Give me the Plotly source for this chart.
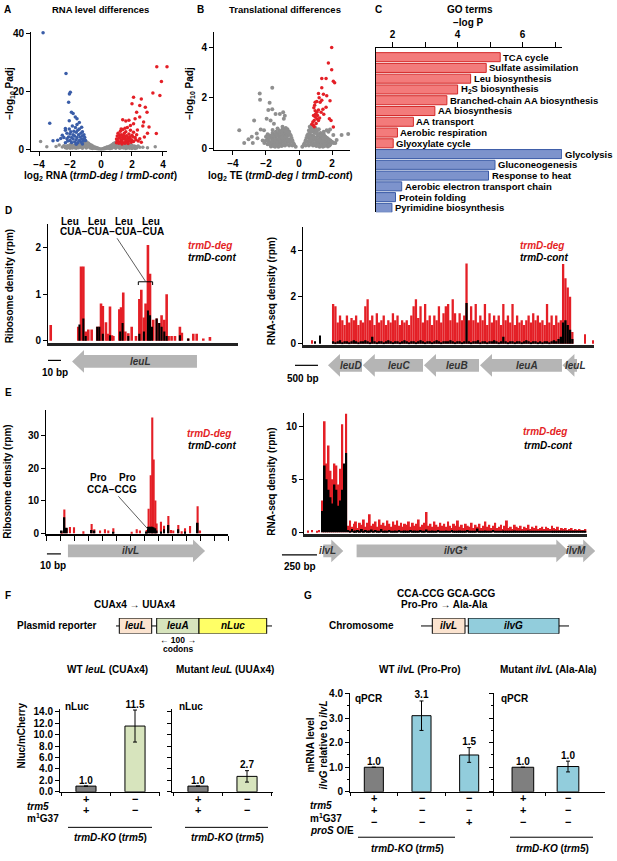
#!/usr/bin/env python3
import plotly.graph_objects as go

W, H = 617, 861
FONT = "Liberation Sans, Arial, sans-serif"
RED = "#e41f26"
GREY = "#8f8f8f"
BLUE = "#3a5da8"
TRACK = "#b5b5b5"

# ---------------- A: RNA volcano (log2 ratio, -log10 Padj)
a_grey = [(0, 0.05), (0.1, 0.1), (-0.1, 0.1), (0.2, 0.3), (-0.2, 0.25), (0.3, 0.5), (-0.3, 0.45),
          (0.4, 0.7), (-0.4, 0.65), (0.5, 0.9), (-0.5, 1.0), (0.6, 1.2), (-0.6, 1.3), (0.7, 1.5),
          (-0.7, 1.6), (0.8, 1.9), (-0.8, 2.0), (0.9, 2.2), (-0.9, 2.4), (1.0, 2.5), (-1.0, 2.8),
          (0.3, 0.2), (-0.3, 0.2), (0.5, 0.4), (-0.5, 0.5), (0.6, 0.7), (-0.6, 0.8), (0.7, 0.3),
          (-0.7, 0.4), (0.8, 1.0), (-0.8, 1.1), (0.9, 0.6), (-0.9, 0.7), (1.0, 1.4), (-1.0, 1.5),
          (1.1, 0.9), (-1.1, 1.0), (1.2, 1.8), (-1.2, 2.0), (1.3, 0.5), (-1.3, 0.6), (1.4, 1.2),
          (-1.4, 1.3), (1.5, 0.8), (-1.5, 0.9), (1.6, 1.5), (-1.6, 1.6), (1.7, 0.4), (-1.7, 0.5),
          (1.8, 1.0), (-1.8, 1.2), (1.9, 0.7), (-1.9, 0.8), (2.0, 1.3), (-2.0, 1.5), (2.1, 0.5),
          (-2.1, 0.6), (2.2, 0.9), (-2.2, 1.0), (2.3, 0.4), (-2.3, 0.5), (2.5, 0.6), (-2.5, 0.7),
          (0.2, 0.1), (-0.2, 0.1), (0.4, 0.3), (-0.4, 0.3), (0.6, 0.2), (-0.6, 0.25), (0.9, 1.6),
          (-0.9, 1.8), (1.1, 2.0), (-1.1, 2.2), (1.3, 1.6), (-1.3, 1.7), (1.5, 2.0), (-1.5, 2.1),
          (1.7, 1.3), (-1.7, 1.4), (1.9, 1.6), (-1.9, 1.7), (2.4, 1.1), (-2.4, 1.2), (2.7, 0.6),
          (-2.7, 1.4), (-3.5, 0.8), (3.5, 0.8), (-3.9, 2.6), (-2.9, 0.9), (3.0, 0.5), (1.2, 0.3),
          (-1.2, 0.3), (1.6, 0.2), (-1.6, 0.3), (2.0, 0.2), (-2.0, 0.3),
          (0.15, 0.2), (-0.15, 0.2), (0.25, 0.4), (-0.25, 0.4), (0.35, 0.6), (-0.35, 0.6), (0.45, 0.5),
          (-0.45, 0.5), (0.55, 0.8), (-0.55, 0.8), (0.65, 1.0), (-0.65, 1.1), (0.75, 1.2), (-0.75, 1.3),
          (0.85, 1.4), (-0.85, 1.5), (0.95, 1.9), (-0.95, 2.1), (1.05, 1.1), (-1.05, 1.2), (1.15, 1.5),
          (-1.15, 1.6), (1.25, 1.0), (-1.25, 1.1), (1.35, 1.4), (-1.35, 1.5), (1.45, 0.9), (-1.45, 1.0),
          (1.55, 1.3), (-1.55, 1.4), (1.65, 0.8), (-1.65, 0.9), (1.75, 1.1), (-1.75, 1.2), (1.85, 0.6),
          (-1.85, 0.7), (1.95, 1.0), (-1.95, 1.1), (2.05, 0.7), (-2.05, 0.8), (2.15, 1.1), (-2.15, 1.2),
          (2.25, 0.6), (-2.25, 0.7), (2.35, 0.9), (-2.35, 1.0), (0.55, 0.2), (-0.55, 0.2), (0.75, 0.6),
          (-0.75, 0.7), (0.95, 0.3), (-0.95, 0.35), (1.15, 0.6), (-1.15, 0.6), (1.45, 0.4), (-1.45, 0.45),
          (1.85, 0.3), (-1.85, 0.35), (2.2, 0.2), (-2.2, 0.25)]
a_blue = [(-1.0, 3.0), (-1.05, 4.0), (-1.1, 3.3), (-1.1, 5.0), (-1.15, 2.8), (-1.2, 4.5), (-1.2, 6.0),
          (-1.25, 3.5), (-1.3, 5.5), (-1.3, 2.5), (-1.35, 4.2), (-1.4, 7.0), (-1.4, 3.0), (-1.45, 5.0),
          (-1.5, 6.5), (-1.5, 2.2), (-1.55, 4.0), (-1.6, 3.2), (-1.6, 5.8), (-1.65, 7.5), (-1.7, 4.5),
          (-1.7, 2.5), (-1.75, 6.2), (-1.8, 3.5), (-1.8, 5.0), (-1.85, 8.0), (-1.9, 4.0), (-1.9, 2.3),
          (-1.95, 6.0), (-2.0, 3.0), (-2.0, 5.2), (-2.05, 7.0), (-2.1, 4.2), (-2.15, 2.8), (-2.2, 5.5),
          (-2.2, 3.6), (-2.3, 6.5), (-2.3, 2.2), (-2.4, 4.0), (-2.5, 4.8), (-2.6, 3.7), (-2.8, 3.1),
          (-3.1, 2.9), (-2.3, 7.1), (-1.25, 7.6), (-1.55, 8.5), (-1.2, 1.8), (-1.6, 1.7),
          (-3.74, 40.3), (-2.26, 26.2), (-1.98, 19.7), (-2.04, 19.1), (-2.09, 16.2), (-1.91, 12.8),
          (-1.8, 12.3), (-1.66, 11.1), (-3.31, 9.0), (-1.55, 10.5), (-2.05, 9.8), (-1.4, 9.2)]
a_red = [(1.0, 2.2), (1.0, 3.5), (1.05, 4.5), (1.1, 2.8), (1.1, 5.5), (1.15, 3.8), (1.2, 2.4),
         (1.2, 4.8), (1.25, 6.2), (1.3, 3.2), (1.3, 5.0), (1.35, 2.6), (1.4, 4.2), (1.4, 6.8),
         (1.45, 3.5), (1.5, 2.2), (1.5, 5.5), (1.55, 4.0), (1.6, 3.0), (1.6, 6.0), (1.65, 4.6),
         (1.7, 2.5), (1.7, 7.5), (1.75, 3.8), (1.8, 5.2), (1.8, 2.8), (1.85, 4.3), (1.9, 3.4),
         (1.9, 6.5), (1.95, 2.4), (2.0, 4.8), (2.0, 3.0), (2.1, 5.8), (2.1, 2.6), (2.2, 4.0),
         (2.25, 3.2), (2.3, 5.0), (2.4, 2.8), (2.5, 3.6), (1.15, 2.0), (1.35, 1.8), (1.55, 2.0),
         (1.75, 1.9), (1.25, 4.0), (1.45, 4.8), (1.65, 3.4), (1.85, 3.0), (2.05, 4.2), (1.05, 3.0),
         (1.3, 7.0), (1.55, 7.2), (2.6, 2.4), (2.8, 4.2), (3.0, 5.5), (2.35, 6.6),
         (3.6, 28.5), (4.26, 28.5), (3.9, 23.4), (3.8, 18.6), (3.35, 19.4), (2.1, 18.0), (2.6, 17.4),
         (2.0, 15.7), (2.5, 15.1), (2.86, 14.5), (2.97, 12.8), (2.3, 12.8), (2.2, 10.5), (1.8, 10.0),
         (2.75, 9.4), (2.5, 11.1), (3.1, 7.7), (3.57, 5.4), (1.9, 8.2), (1.6, 9.7), (2.1, 8.8),
         (1.4, 10.2), (2.7, 8.0)]

# ---------------- B: TE volcano
b_grey = [(-0.2, 0.05), (-0.3, 0.15), (-0.4, 0.3), (-0.5, 0.5), (-0.6, 0.65), (-0.7, 0.75), (-0.8, 0.8),
          (-0.9, 0.7), (-1.0, 0.75), (-1.1, 0.6), (-1.2, 0.7), (-1.3, 0.55), (-1.4, 0.65), (-1.5, 0.5),
          (-1.6, 0.6), (-1.7, 0.45), (-1.8, 0.5), (-1.9, 0.35), (-2.0, 0.3), (-2.1, 0.2),
          (-0.4, 0.1), (-0.5, 0.25), (-0.6, 0.35), (-0.7, 0.5), (-0.8, 0.55), (-0.9, 0.45), (-1.0, 0.5),
          (-1.1, 0.35), (-1.2, 0.45), (-1.3, 0.3), (-1.4, 0.4), (-1.5, 0.25), (-1.6, 0.35), (-1.7, 0.2),
          (-1.8, 0.25), (-1.9, 0.15), (-0.7, 0.25), (-0.8, 0.3), (-0.9, 0.2), (-1.0, 0.25), (-1.1, 0.15),
          (-1.2, 0.2), (-1.3, 0.1), (-1.4, 0.15), (-1.5, 0.1), (-1.6, 0.12), (-0.6, 0.1), (-0.85, 0.1),
          (-1.05, 0.08), (-1.25, 0.05), (-1.45, 0.05), (-1.7, 0.06),
          (-0.35, 0.2), (-0.45, 0.4), (-0.55, 0.55), (-0.65, 0.6), (-0.75, 0.65), (-0.85, 0.7),
          (-0.95, 0.6), (-1.05, 0.65), (-1.15, 0.55), (-1.25, 0.6), (-1.35, 0.5), (-1.45, 0.55),
          (-1.55, 0.45), (-1.65, 0.5), (-1.75, 0.4), (-1.85, 0.4), (-1.95, 0.3), (-0.55, 0.15),
          (-0.65, 0.3), (-0.75, 0.4), (-0.85, 0.45), (-0.95, 0.35), (-1.05, 0.4), (-1.15, 0.3),
          (-1.25, 0.35), (-1.35, 0.25), (-1.45, 0.3), (-1.55, 0.2), (-1.65, 0.25), (-1.75, 0.15),
          (-1.85, 0.2), (-0.75, 0.15), (-0.95, 0.12), (-1.15, 0.1), (-1.35, 0.12), (-1.55, 0.08),
          (-0.8, 0.65), (-1.0, 0.85), (-1.3, 0.78), (-1.6, 0.72), (-1.9, 0.55), (-2.2, 0.3), (-2.0, 0.45),
          (0.2, 0.05), (0.3, 0.15), (0.4, 0.3), (0.5, 0.5), (0.6, 0.7), (0.7, 0.8), (0.8, 0.75),
          (0.9, 0.7), (1.0, 0.65), (1.1, 0.7), (1.2, 0.55), (1.3, 0.6), (1.4, 0.5), (1.5, 0.55),
          (1.6, 0.45), (1.7, 0.4), (1.8, 0.35), (1.9, 0.3), (2.0, 0.25), (2.1, 0.2),
          (0.4, 0.1), (0.5, 0.25), (0.6, 0.4), (0.7, 0.5), (0.8, 0.5), (0.9, 0.45), (1.0, 0.4),
          (1.1, 0.45), (1.2, 0.35), (1.3, 0.4), (1.4, 0.3), (1.5, 0.35), (1.6, 0.25), (1.7, 0.2),
          (1.8, 0.2), (1.9, 0.15), (0.7, 0.25), (0.8, 0.3), (0.9, 0.2), (1.0, 0.2), (1.1, 0.15),
          (1.2, 0.2), (1.3, 0.1), (1.4, 0.15), (1.5, 0.1), (1.6, 0.12), (0.6, 0.1), (0.85, 0.1),
          (1.05, 0.08), (1.25, 0.05), (1.45, 0.05), (1.75, 0.06),
          (0.35, 0.2), (0.45, 0.4), (0.55, 0.55), (0.65, 0.6), (0.75, 0.65), (0.85, 0.7), (0.95, 0.6),
          (1.05, 0.6), (1.15, 0.55), (1.25, 0.5), (1.35, 0.5), (1.45, 0.45), (1.55, 0.4), (1.65, 0.4),
          (1.75, 0.3), (1.85, 0.3), (1.95, 0.25), (0.55, 0.15), (0.65, 0.3), (0.75, 0.4), (0.85, 0.45),
          (0.95, 0.35), (1.05, 0.3), (1.15, 0.3), (1.25, 0.3), (1.35, 0.25), (1.45, 0.2), (1.55, 0.2),
          (1.65, 0.15), (1.75, 0.12), (1.85, 0.1), (0.75, 0.15), (0.95, 0.12), (1.15, 0.1), (1.35, 0.1),
          (1.55, 0.08), (0.65, 0.85), (0.75, 0.9), (1.0, 0.8), (1.2, 0.75), (1.5, 0.65), (2.2, 0.2),
          (-1.62, 2.4), (-2.38, 2.17), (-2.36, 1.92), (-1.78, 1.8), (-1.86, 1.52), (-1.62, 1.55),
          (-0.96, 1.43), (-1.16, 1.36), (-0.86, 1.29), (-0.92, 1.17), (-2.72, 1.1), (-1.72, 1.1),
          (-3.62, 0.71), (-2.32, 0.74), (-2.56, 0.58), (-3.06, 0.35), (-2.86, 0.45), (-3.32, 0.2),
          (-2.8, 0.2), (-2.52, 0.39), (-2.12, 0.71), (-1.96, 1.17), (-1.52, 0.97), (-1.42, 1.36),
          (2.98, 0.56), (2.28, 0.32), (2.58, 0.52), (1.78, 0.65), (1.88, 0.74), (1.68, 0.71), (2.08, 0.52)]
b_red = [(2.64, 4.64), (1.98, 4.0), (1.78, 3.38), (1.98, 3.12), (1.38, 2.77), (1.64, 2.77), (2.08, 2.66),
         (2.16, 2.6), (1.38, 2.4), (1.18, 2.17), (1.48, 2.14), (1.68, 2.08), (0.98, 1.82), (1.08, 1.85),
         (1.28, 1.82), (1.38, 1.9), (1.88, 1.88), (1.64, 1.62), (0.98, 1.49), (1.08, 1.43), (1.18, 1.52),
         (1.34, 1.43), (0.88, 1.3), (0.98, 1.24), (1.08, 1.17), (0.92, 1.1), (0.84, 1.04), (1.04, 0.98),
         (1.18, 1.1), (1.84, 1.17), (1.94, 1.1), (2.08, 0.84), (0.88, 0.9), (0.78, 0.95), (0.92, 0.85),
         (1.0, 1.35), (0.9, 1.6), (1.12, 1.3), (1.25, 1.2), (1.45, 1.55), (1.22, 2.0), (1.5, 1.35),
         (0.95, 1.7)]

# ---------------- C: GO terms
go_terms = ["TCA cycle", "Sulfate assimilation", "Leu biosynthesis", "H<sub>2</sub>S biosynthesis",
            "Branched-chain AA biosynthesis", "AA biosynthesis", "AA transport", "Aerobic respiration",
            "Glyoxylate cycle", "Glycolysis", "Gluconeogenesis", "Response to heat",
            "Aerobic electron transport chain", "Protein folding", "Pyrimidine biosynthesis"]
go_logp = [5.31, 4.88, 4.40, 4.0, 3.67, 3.30, 2.64, 2.15, 2.02, 7.2, 5.15, 4.95, 2.28, 2.09, 1.98]
go_dir = ["up"] * 9 + ["down"] * 6

# ---------------- D left: ribosome density at leuL (bp)
d_ribo_deg_pos = [2.1, 23.3, 25.4, 27.2, 29, 31, 33.6, 37.9, 39.5, 40.8, 42.2, 44.6, 45.9, 47.7, 49.2,
                  50.3, 54.9, 56.2, 57.9, 59.5, 61.8, 64.4, 67.7, 70.3, 71.8, 73.8, 75.1, 76.9, 78.5,
                  81, 83.6, 85.6, 87.4, 89.5, 91.3, 92.8, 95.1, 97.7, 101.5, 103, 107.9, 111.8, 114.4,
                  119.5, 124.6]
d_ribo_deg = [0.34, 0.3, 1.6, 1.6, 0.2, 0.24, 0.24, 0.3, 0.3, 0.8, 0.75, 0.4, 0.15, 0.74, 0.12,
              0.1, 0.68, 0.72, 1.04, 0.2, 0.16, 0.3, 0.1, 0.9, 1.1, 0.5, 0.8, 2.06, 1.44,
              0.45, 0.48, 0.38, 0.55, 0.45, 1.0, 0.1, 0.1, 0.1, 0.3, 0.17, 0.05, 0.15, 0.15,
              0.05, 0.08]
d_ribo_cont_pos = [24.2, 27.2, 29, 37.9, 39.5, 42.2, 47.7, 55.5, 57.4, 61.8, 70.3, 73.8, 76.9, 78.5,
                   80, 83.6, 85.6, 87.4, 89.5, 91.3, 101.5, 107.9]
d_ribo_cont = [0.35, 0.48, 0.1, 0.3, 0.3, 0.15, 0.12, 0.2, 0.38, 0.1, 0.15, 0.2, 0.65, 0.55,
               0.3, 0.48, 0.38, 0.3, 0.2, 0.1, 0.12, 0.05]
d_codon_span = [69.5, 80.5]

# ---------------- D right: RNA-seq density over leu operon (50 bp bins)
d_rna_start, d_rna_bin = 655, 50
d_rna_deg = [1.7, 1.6, 0.9, 1.2, 1.0, 0.8, 1.2, 0.9, 1.1, 1.0,
             1.2, 0.8, 1.0, 0.9, 1.6, 1.9, 1.0, 1.2, 0.8, 1.3,
             0.9, 1.0, 1.2, 0.8, 1.0, 0.9, 1.3, 1.0, 1.2, 0.8,
             1.0, 0.9, 1.0, 0.8, 1.2, 1.6, 1.9, 1.1, 1.6, 0.9,
             1.7, 1.0, 1.2, 0.8, 1.2, 1.0, 1.6, 0.9, 1.3, 1.6,
             1.7, 1.0, 1.9, 1.3, 0.9, 1.3, 1.0, 1.2, 3.43, 1.0,
             1.6, 1.0, 1.7, 0.9, 1.2, 1.0, 1.7, 0.8, 1.3, 0.9,
             1.2, 1.0, 1.2, 0.8, 1.7, 1.0, 1.2, 0.9, 1.7, 0.8,
             1.2, 0.9, 1.0, 0.8, 1.0, 1.2, 0.9, 1.3, 1.0, 1.2,
             0.9, 1.0, 0.8, 1.7, 0.9, 1.2, 0.8, 1.2, 0.9, 1.0,
             3.4, 2.8, 2.4, 2.0, 0.5]
d_rna_cont = [0.1, 0.05, 0.1, 0.15, 0.05, 0.1, 0.1, 0.05, 0.1, 0.15,
              0.1, 0.05, 0.1, 0.1, 0.15, 0.1, 0.05, 0.3, 0.1, 0.05,
              0.1, 0.1, 0.05, 0.1, 0.15, 0.1, 0.05, 0.1, 0.1, 0.05,
              0.1, 0.15, 0.1, 0.05, 0.1, 0.1, 0.05, 0.1, 0.15, 0.1,
              0.05, 0.1, 0.1, 0.05, 0.1, 0.15, 0.1, 0.05, 0.1, 0.1,
              0.1, 0.15, 0.1, 0.05, 0.1, 0.1, 0.05, 0.1, 1.74, 0.1,
              0.05, 0.1, 0.1, 0.15, 0.05, 0.1, 0.1, 0.05, 0.1, 0.1,
              0.15, 0.1, 0.05, 0.1, 0.3, 0.1, 0.05, 0.1, 0.1, 0.05,
              0.1, 0.1, 0.05, 0.1, 0.15, 0.1, 0.05, 0.1, 0.1, 0.05,
              0.1, 0.05, 0.1, 0.1, 0.05, 0.1, 0.15, 0.1, 0.2, 0.3,
              0.9, 1.0, 0.8, 0.6, 0.2]
d_rna_deg_extra_pos, d_rna_deg_extra = [196, 6130, 6300], [0.15, 0.4, 0.15]
d_rna_cont_extra_pos, d_rna_cont_extra = [260, 370], [0.1, 0.35]

# ---------------- E left: ribosome density at ilvL (bp)
e_ribo_deg_pos = [11.2, 13.1, 14.8, 17.1, 20, 26.7, 32.6, 34.5, 38.6, 42.1, 44.5, 48.1, 61.2, 64.8,
                  67.1, 71.9, 73.3, 74.8, 75.9, 76.9, 78.1, 79, 82.1, 84.3, 87.4, 89.3, 90.9, 94.5,
                  96.9, 99.3, 102.9, 108.3, 110]
e_ribo_deg = [0.5, 7.3, 1.5, 1.9, 1.8, 0.6, 2.8, 1.2, 0.8, 1.2, 0.8, 1.5, 0.3, 1.2,
              0.8, 1.0, 7.5, 17.8, 35.5, 22.6, 10, 3, 3.5, 2.3, 5.3, 1.0, 0.8, 2.5,
              0.6, 1.5, 2.2, 8.3, 0.8]
e_ribo_cont_pos = [11.2, 13.1, 14.8, 32.6, 34.5, 48.1, 71.9, 73.3, 74.8, 75.9, 76.9, 78.1, 79,
                   82.1, 84.3, 87.4, 94.5, 99.3, 108.3]
e_ribo_cont = [0.8, 4.9, 1.7, 1.0, 0.8, 0.3, 0.5, 2.0, 2.0, 2.0, 1.8, 1.5, 0.8,
               0.5, 1.2, 2.5, 1.2, 0.5, 3.2]
e_ticks = [0, 10, 20, 30, 40, 50, 60, 70, 80, 90, 100, 110, 120, 130]
e_codon_pos = [72.9, 1.2]

# ---------------- E right: RNA-seq density over ilv operon (14 bp bins)
e_rna_start, e_rna_bin = 133, 14
e_rna_deg = [3.0, 10.5, 6.5, 8.2, 5.8, 5.0, 6.5, 6.3, 4.5, 6.0, 10.2, 6.0, 11.2,
             0.6, 1.1, 0.5, 0.8, 1.0, 0.4, 0.9, 0.7, 1.2, 0.5,
             0.9, 1.7, 0.6, 0.8, 1.0, 0.5, 1.2, 0.7, 0.9, 0.6,
             1.1, 0.8, 0.5, 1.0, 0.7, 1.1, 0.6, 0.9, 0.5, 0.8,
             0.7, 1.0, 0.5, 0.9, 0.6, 0.8, 1.2, 0.5, 0.7, 0.9,
             1.9, 0.6, 0.8, 0.5, 1.0, 0.7, 0.5, 0.9, 0.6, 0.8,
             0.5, 1.0, 0.6, 0.4, 0.8, 0.6, 1.1, 0.5, 0.7, 0.4,
             0.8, 0.6, 0.5, 0.9, 0.4, 0.7, 0.5, 0.8, 0.4, 0.6,
             1.0, 0.5, 0.7, 0.4, 0.6, 0.9, 0.4, 0.5, 0.7, 0.3,
             0.6, 1.1, 0.4, 0.5, 0.3, 0.7, 0.5, 0.4, 0.6, 0.3,
             0.5, 0.4, 0.7, 0.3, 0.5, 0.4, 0.6, 0.3, 0.4, 0.5,
             0.3, 0.5, 0.4, 0.3, 0.6, 0.4, 0.3, 0.5, 0.2, 0.4,
             0.3, 0.4, 0.2, 0.3, 0.4, 0.2, 0.3, 0.2, 0.3, 0.2, 0.2, 0.3]
e_rna_cont = [2.0, 6.3, 5.0, 4.0, 3.3, 2.7, 4.5, 4.0, 2.5, 3.0, 4.0, 6.5, 7.5,
              0.2, 0.1, 0.3, 0.1, 0.15, 0.2, 0.1, 0.3, 0.1, 0.2,
              0.1, 0.15, 0.25, 0.1, 0.2, 0.1, 0.1, 0.3, 0.1, 0.15,
              0.1, 0.2, 0.1, 0.1, 0.15, 0.1, 0.2, 0.1, 0.1, 0.15,
              0.1, 0.1, 0.2, 0.1, 0.15, 0.1, 0.1, 0.2, 0.1, 0.1,
              0.25, 0.1, 0.1, 0.15, 0.1, 0.1, 0.2, 0.1, 0.1, 0.1,
              0.15, 0.1, 0.1, 0.2, 0.1, 0.1, 0.1, 0.15, 0.1, 0.1,
              0.1, 0.2, 0.1, 0.1, 0.1, 0.1, 0.35, 0.1, 0.1, 0.1,
              0.15, 0.1, 0.1, 0.1, 0.2, 0.1, 0.1, 0.1, 0.1, 0.15,
              0.1, 0.1, 0.1, 0.1, 0.1, 0.15, 0.1, 0.1, 0.1, 0.1,
              0.1, 0.1, 0.15, 0.1, 0.1, 0.1, 0.1, 0.1, 0.1, 0.1,
              0.1, 0.1, 0.1, 0.1, 0.1, 0.1, 0.1, 0.1, 0.1, 0.1,
              0.1, 0.05, 0.1, 0.05, 0.1, 0.05, 0.1, 0.05, 0.05, 0.05, 0.05, 0.05]
e_rna_deg_extra_pos, e_rna_deg_extra = [30, 60, 90, 110], [0.15, 0.2, 0.1, 0.2]

# ---------------- gene tracks (start, end in bp, direction)
d_left_genes = [("leuL", 18.5, 114.6, "L")]
d_right_genes = [("leuD", 543, 1283, "L"), ("leuC", 1300, 2609, "L"), ("leuB", 2630, 3826, "L"),
                 ("leuA", 3848, 5630, "L"), ("leuL", 5640, 5957, "L")]
e_left_genes = [("ilvL", 15.7, 113.6, "R")]
e_right_genes = [("ilvL", 138, 281, "R"), ("ilvG*", 376, 1888, "R"), ("ilvM", 1888, 2080, "R")]

# ---------------- F / G schematics (construct units)
f_parts = ["leuL", "leuA", "nLuc"]
f_part_x0 = [19.3, 56.7, 99]
f_part_x1 = [51.7, 99, 166.7]
f_part_col = ["#fbe3cf", "#d7e4bd", "#ffff66"]
f_backbone = [16, 172]
f_mut = 35
g_parts = ["ilvL", "ilvG"]
g_part_x0 = [22.3, 58.3]
g_part_x1 = [55, 149]
g_part_col = ["#fbe3cf", "#92cddc"]
g_backbone = [11, 159]
g_mut = 37.7

# ---------------- F / G bars
f_left_vals, f_left_err = [1.0, 11.5], [0, 2.8]
f_right_vals, f_right_err = [1.0, 2.7], [0, 1.0]
f_cols = ["#7f7f7f", "#d7e4bd"]
f_trm5 = ["+", "−"]
f_m1g37 = ["+", "−"]
g_left_vals, g_left_err = [1.0, 3.1, 1.5], [0, 0.6, 0.3]
g_right_vals, g_right_err = [1.0, 1.03], [0, 0.22]
g_left_cols = ["#7f7f7f", "#92cddc", "#92cddc"]
g_right_cols = ["#7f7f7f", "#92cddc"]
g_left_trm5, g_left_m1g37, g_left_pros = ["+", "−", "−"], ["+", "−", "−"], ["−", "−", "+"]
g_right_trm5, g_right_m1g37, g_right_pros = ["+", "−"], ["+", "−"], ["−", "−"]

# =====================================================================
fig = go.Figure()
lay = {}
ann = []
shapes = []
count = [0]


def fx(px):
    return px / W


def fy(py):
    return 1 - py / H


AX = dict(showgrid=False, zeroline=False, showline=True, linecolor="black", linewidth=1,
          ticks="outside", ticklen=4, tickwidth=1, tickcolor="black",
          tickfont=dict(family=FONT, size=10, color="black", weight="bold"), fixedrange=True)
HID = dict(visible=False)


def axes(x0, x1, y0, y1, xr, yr, xkw=None, ykw=None):
    count[0] += 1
    s = "" if count[0] == 1 else str(count[0])
    xa = dict(AX)
    xa.update(xkw or {})
    ya = dict(AX)
    ya.update(ykw or {})
    xa.update(domain=[fx(x0), fx(x1)], range=xr, anchor="y" + s)
    ya.update(domain=[fy(y1), fy(y0)], range=yr, anchor="x" + s)
    lay["xaxis" + s] = xa
    lay["yaxis" + s] = ya
    return "x" + s, "y" + s


def text(px, py, s, size=10, color="black", xa="center", angle=0, weight="bold"):
    ann.append(dict(x=fx(px), y=fy(py), xref="paper", yref="paper", text=s, showarrow=False,
                    font=dict(family=FONT, size=size, color=color, weight=weight),
                    xanchor=xa, yanchor="middle", textangle=angle))


def pts(xa, ya, data, color, size=3.5):
    xs, ys = zip(*data)
    fig.add_trace(go.Scatter(x=xs, y=ys, mode="markers", xaxis=xa, yaxis=ya, cliponaxis=False,
                             marker=dict(size=size, color=color), hoverinfo="skip"))


def bars(xa, ya, x, y, color, width):
    fig.add_trace(go.Bar(x=x, y=y, xaxis=xa, yaxis=ya, width=width,
                         marker=dict(color=color, line=dict(width=0)), hoverinfo="skip"))


def track(xa, ya, genes, head):
    for name, s, e, d in genes:
        hb, hh = 0.43, 0.77
        if d == "L":
            k = s + head
            xs = [s, k, k, e, e, k, k, s]
            mid = (k + e) / 2
        else:
            k = e - head
            xs = [e, k, k, s, s, k, k, e]
            mid = (s + k) / 2
        ys = [0, hh, hb, hb, -hb, -hb, -hh, 0]
        fig.add_trace(go.Scatter(x=xs, y=ys, xaxis=xa, yaxis=ya, mode="lines", fill="toself",
                                 fillcolor=TRACK, line=dict(width=0), hoverinfo="skip"))
        ann.append(dict(x=mid, y=0, xref=xa, yref=ya, text="<i>%s</i>" % name, showarrow=False,
                        font=dict(family=FONT, size=10, color="#333", weight="bold")))


def scalebar(xa, x0, x1, py):
    shapes.append(dict(type="line", xref=xa, yref="paper", x0=x0, x1=x1, y0=fy(py), y1=fy(py),
                       line=dict(color="black", width=1.2)))


# ---------------- A
xa, ya = axes(31, 167, 27, 148, [-4.52, 4.26], [-0.7, 40.7],
              dict(tickvals=[-4, -2, 0, 2, 4]), dict(tickvals=[0, 20, 40]))
pts(xa, ya, a_grey, GREY)
pts(xa, ya, a_blue, BLUE)
pts(xa, ya, a_red, RED)
text(2, 5, "A", xa="left")
text(100, 5, "RNA level differences", size=9.5)
text(10, 90, "−log<sub>10</sub> Padj", angle=-90)
text(100, 173, "log<sub>2</sub> RNA (<i>trmD-deg</i> / <i>trmD-cont</i>)")

# ---------------- B
xa, ya = axes(214, 350, 27, 147, [-5.15, 3.09], [-0.08, 4.63],
              dict(tickvals=[-4, -2, 0, 2]), dict(tickvals=[0, 2, 4]))
pts(xa, ya, b_grey, GREY, 4)
pts(xa, ya, b_red, RED)
text(195, 5, "B", xa="left")
text(285, 5, "Translational differences", size=9.5)
text(190, 90, "−log<sub>10</sub> Padj", angle=-90)
text(280, 173, "log<sub>2</sub> TE (<i>trmD-deg</i> / <i>trmD-cont</i>)")

# ---------------- C
xa, ya = axes(376, 562, 44, 210, [1.49, 7.21], [14.41, -0.81],
              dict(side="top", tickvals=[2, 4, 6], ticklen=5,
                   minor=dict(tickvals=[3, 5, 7], ticks="outside", ticklen=5, tickcolor="black")),
              dict(ticks="", showticklabels=False))
fill = {"up": "#f37b7b", "down": "#7d93cc"}
edge = {"up": "#d42a2a", "down": "#3a5aa6"}
go_rows = list(range(len(go_terms)))
fig.add_trace(go.Bar(y=go_rows, x=go_logp, orientation="h", xaxis=xa, yaxis=ya, width=0.84,
                     marker=dict(color=[fill[d] for d in go_dir],
                                 line=dict(color=[edge[d] for d in go_dir], width=1)),
                     hoverinfo="skip"))
for term, v, r in zip(go_terms, go_logp, go_rows):
    ann.append(dict(x=v, y=r, xref=xa, yref=ya, text=term, showarrow=False, xanchor="left",
                    xshift=1, font=dict(family=FONT, size=9.5, color="black", weight="bold")))
text(373, 5, "C", xa="left")
text(470, 5, "GO terms")
text(468, 18, "−log P")

# ---------------- D left
xa, ya = axes(48, 238, 222, 342, [0, 146.2], [-0.04, 2.51],
              dict(ticks="", showticklabels=False, linewidth=2.5, linecolor="#222"),
              dict(tickvals=[0, 1, 2]))
bars(xa, ya, d_ribo_deg_pos, d_ribo_deg, RED, 2.0)
bars(xa, ya, d_ribo_cont_pos, d_ribo_cont, "black", 1.6)
shapes.append(dict(type="path", xref=xa, yref=ya,
                   path="M %s,1.2 L %s,1.27 L %s,1.27 L %s,1.2" % (d_codon_span[0], d_codon_span[0],
                                                                 d_codon_span[1], d_codon_span[1]),
                   line=dict(color="black", width=1)))
cx = sum(d_codon_span) / 2
ann.append(dict(x=cx, y=1.28, xref=xa, yref=ya, ax=-33, ay=-50, text="CUA−CUA−CUA−CUA",
                showarrow=True, arrowhead=0, arrowwidth=0.8, arrowcolor="#333",
                font=dict(family=FONT, size=10, color="black", weight="bold")))
for px in [70, 97, 124, 151]:
    text(px, 219, "Leu")
text(3, 208, "D", xa="left")
text(9, 285, "Ribosome density (rpm)", angle=-90)
text(210, 244, "<i>trmD-deg</i>", color=RED)
text(212, 256, "<i>trmD-cont</i>")
xa, ya = axes(38, 240, 346, 376, [-7.7, 147.7], [-1, 1], HID, HID)
track(xa, ya, d_left_genes, 9.2)
scalebar(xa, 0, 10, 360)
text(55, 372, "10 bp")

# ---------------- D right
xa, ya = axes(303, 594, 225, 344, [0, 6326], [-0.04, 4.98],
              dict(ticks="", showticklabels=False, linewidth=2.5, linecolor="#222"),
              dict(tickvals=[0, 2, 4]))
d_pos = [d_rna_start + d_rna_bin * i for i in range(len(d_rna_deg))]
bars(xa, ya, d_pos, d_rna_deg, RED, d_rna_bin)
bars(xa, ya, d_rna_deg_extra_pos, d_rna_deg_extra, RED, 25)
bars(xa, ya, d_pos, d_rna_cont, "black", d_rna_bin)
bars(xa, ya, d_rna_cont_extra_pos, d_rna_cont_extra, "black", 25)
text(271, 290, "RNA-seq density (rpm)", angle=-90)
text(542, 244, "<i>trmD-deg</i>", color=RED)
text(544, 256, "<i>trmD-cont</i>")
xa, ya = axes(285, 600, 350, 380, [-391, 6457], [-1, 1], HID, HID)
track(xa, ya, d_right_genes, 261)
scalebar(xa, -174, 326, 365)
text(303, 378, "500 bp")

# ---------------- E left
xa, ya = axes(46, 228, 410, 536, [0, 130], [-0.3, 37.9],
              dict(tickvals=e_ticks, showticklabels=False, ticklen=5, linewidth=1.5),
              dict(tickvals=[0, 10, 20, 30]))
bars(xa, ya, e_ribo_deg_pos, e_ribo_deg, RED, 1.5)
bars(xa, ya, e_ribo_cont_pos, e_ribo_cont, "black", 1.3)
ann.append(dict(x=e_codon_pos[0], y=e_codon_pos[1], xref=xa, yref=ya, ax=-36, ay=-40, text="CCA−CCG",
                showarrow=True, arrowhead=0, arrowwidth=0.8, arrowcolor="#333",
                font=dict(family=FONT, size=10, color="black", weight="bold")))
text(98, 479, "Pro")
text(127, 479, "Pro")
text(3, 393, "E", xa="left")
text(8, 483, "Ribosome density (rpm)", angle=-90)
text(209, 434, "<i>trmD-deg</i>", color=RED)
text(212, 446, "<i>trmD-cont</i>")
xa, ya = axes(36, 230, 538, 568, [-7.1, 131.4], [-1, 1], HID, HID)
track(xa, ya, e_left_genes, 8.6)
scalebar(xa, 0.7, 10.7, 556)
text(53, 568, "10 bp")

# ---------------- E right
xa, ya = axes(304, 587, 413, 536, [0, 2021], [-0.19, 11.3],
              dict(ticks="", showticklabels=False, linewidth=2.5, linecolor="#222"),
              dict(tickvals=[0, 5, 10]))
e_pos = [e_rna_start + e_rna_bin * i for i in range(len(e_rna_deg))]
bars(xa, ya, e_pos, e_rna_deg, RED, e_rna_bin)
bars(xa, ya, e_rna_deg_extra_pos, e_rna_deg_extra, RED, 8)
bars(xa, ya, e_pos, e_rna_cont, "black", e_rna_bin)
text(272, 483, "RNA-seq density (rpm)", angle=-90)
text(545, 432, "<i>trmD-deg</i>", color=RED)
text(548, 446, "<i>trmD-cont</i>")
xa, ya = axes(280, 600, 538, 568, [-171, 2114], [-1, 1], HID, HID)
track(xa, ya, e_right_genes, 86)
scalebar(xa, -157, 93, 557)
text(300, 569, "250 bp")


# ---------------- schematics
def construct(xa, ya, parts, x0s, x1s, cols, backbone, mut):
    shapes.append(dict(type="line", xref=xa, yref=ya, x0=backbone[0], x1=backbone[1], y0=0, y1=0,
                       line=dict(color="black", width=1)))
    for name, a, b, c in zip(parts, x0s, x1s, cols):
        shapes.append(dict(type="rect", xref=xa, yref=ya, x0=a, x1=b, y0=-1, y1=1, fillcolor=c,
                           line=dict(color="black", width=1)))
        ann.append(dict(x=(a + b) / 2, y=0, xref=xa, yref=ya, text="<i>%s</i>" % name, showarrow=False,
                        font=dict(family=FONT, size=10, color="black", weight="bold")))
    fig.add_trace(go.Scatter(x=[mut], y=[1.55], xaxis=xa, yaxis=ya, mode="markers", cliponaxis=False,
                             marker=dict(symbol="triangle-down", size=9, color="#ffd21f",
                                         line=dict(color="#e8541e", width=1.5)), hoverinfo="skip"))


xa, ya = axes(100, 290, 621, 637, [0, 190], [-1, 1], HID, HID)
construct(xa, ya, f_parts, f_part_x0, f_part_x1, f_part_col, f_backbone, f_mut)
text(3, 598, "F", xa="left")
text(135, 607, "CUAx4 → UUAx4")
text(57, 629, "Plasmid reporter")
text(178, 643, "← 100 →", size=8.5)
text(178, 652, "codons", size=8.5)

xa, ya = axes(410, 580, 621, 637, [0, 170], [-1, 1], HID, HID)
construct(xa, ya, g_parts, g_part_x0, g_part_x1, g_part_col, g_backbone, g_mut)
text(302, 598, "G", xa="left")
text(446, 596, "CCA-CCG GCA-GCG")
text(444, 607, "Pro-Pro → Ala-Ala")
text(361, 629, "Chromosome")


# ---------------- bar charts
def barchart(xa, ya, vals, errs, cols, width):
    xs = list(range(len(vals)))
    fig.add_trace(go.Bar(x=xs, y=vals, xaxis=xa, yaxis=ya, width=width,
                         marker=dict(color=cols, line=dict(color="black", width=1)),
                         error_y=dict(type="data", array=errs, color="black", thickness=1, width=2),
                         hoverinfo="skip"))
    fig.add_trace(go.Scatter(x=xs, y=[v + e for v, e in zip(vals, errs)], xaxis=xa, yaxis=ya,
                             mode="text", text=["%.1f" % v for v in vals], textposition="top center",
                             cliponaxis=False,
                             textfont=dict(family=FONT, size=10, color="black", weight="bold"),
                             hoverinfo="skip"))


def signs(xa, rows):
    for py, row in rows:
        for i, s in enumerate(row):
            ann.append(dict(x=i, y=fy(py), xref=xa, yref="paper", text=s, showarrow=False,
                            font=dict(family=FONT, size=11, color="black", weight="bold")))


def hline(x0, x1, py):
    shapes.append(dict(type="line", xref="paper", yref="paper", x0=fx(x0), x1=fx(x1), y0=fy(py), y1=fy(py),
                       line=dict(color="black", width=1)))


bx = dict(tickvals=[-0.5, 0.5, 1.5], showticklabels=False, ticklen=3)
fy_ticks = [0, 2, 4, 6, 8, 10, 12, 14]
xa, ya = axes(60, 160, 713, 797, [-0.53, 1.51], [0, 14.5], bx,
              dict(tickvals=fy_ticks, tickformat=".1f"))
barchart(xa, ya, f_left_vals, f_left_err, f_cols, 0.41)
signs(xa, [(812, f_trm5), (824, f_m1g37)])
xa, ya = axes(172, 273, 713, 797, [-0.53, 1.53], [0, 14.5], bx,
              dict(tickvals=fy_ticks, showticklabels=False))
barchart(xa, ya, f_right_vals, f_right_err, f_cols, 0.41)
signs(xa, [(812, f_trm5), (824, f_m1g37)])
text(107, 673, "WT <i>leuL</i> (CUAx4)")
text(225, 673, "Mutant <i>leuL</i> (UUAx4)")
text(63, 711, "nLuc", xa="left")
text(177, 711, "nLuc", xa="left")
text(22, 740, "Nluc/mCherry", angle=-90)
text(25, 812, "<i>trm5</i>", xa="left")
text(25, 824, "m<sup>1</sup>G37", xa="left")
hline(68, 152, 833)
hline(185, 268, 833)
text(110, 843, "<i>trmD-KO</i> (<i>trm5</i>)")
text(227, 843, "<i>trmD-KO</i> (<i>trm5</i>)")

gminor = dict(ticks="outside", dtick=0.5, ticklen=2, tickcolor="black")
gy_ticks = [0, 1, 2, 3, 4]
xa, ya = axes(350, 493, 697, 797, [-0.5, 2.5], [0, 4.02],
              dict(tickvals=[-0.5, 0.5, 1.5, 2.5], showticklabels=False, ticklen=3),
              dict(tickvals=gy_ticks, ticktext=["0", "1.0", "2.0", "3.0", "4.0"], minor=gminor))
barchart(xa, ya, g_left_vals, g_left_err, g_left_cols, 0.4)
signs(xa, [(811, g_left_trm5), (824, g_left_m1g37), (836, g_left_pros)])
xa, ya = axes(494, 605, 697, 797, [-0.64, 1.82], [0, 4.02],
              dict(tickvals=[0.5], showticklabels=False, ticklen=3),
              dict(tickvals=gy_ticks, showticklabels=False, minor=gminor))
barchart(xa, ya, g_right_vals, g_right_err, g_right_cols, 0.48)
signs(xa, [(811, g_right_trm5), (824, g_right_m1g37), (836, g_right_pros)])
text(420, 673, "WT <i>ilvL</i> (Pro-Pro)")
text(548, 673, "Mutant <i>ilvL</i> (Ala-Ala)")
text(353, 702, "qPCR", xa="left")
text(499, 702, "qPCR", xa="left")
text(317, 750, "mRNA level<br><i>ilvG</i> relative to <i>ilvL</i>", angle=-90)
text(308, 811, "<i>trm5</i>", xa="left")
text(308, 824, "m<sup>1</sup>G37", xa="left")
text(308, 836, "<i>proS</i> O/E", xa="left")
hline(358, 455, 843)
hline(510, 593, 843)
text(407, 854, "<i>trmD-KO</i> (<i>trm5</i>)")
text(552, 854, "<i>trmD-KO</i> (<i>trm5</i>)")

fig.update_layout(width=W, height=H, margin=dict(l=0, r=0, t=0, b=0), showlegend=False,
                  paper_bgcolor="white", plot_bgcolor="rgba(0,0,0,0)", barmode="overlay",
                  font=dict(family=FONT, size=10, color="black"),
                  annotations=ann, shapes=shapes, **lay)
# the page's default 8px body margin would shift the figure off the window
fig.write_html("out.html", config={"displayModeBar": False},
               post_script="document.body.style.margin='0';")
